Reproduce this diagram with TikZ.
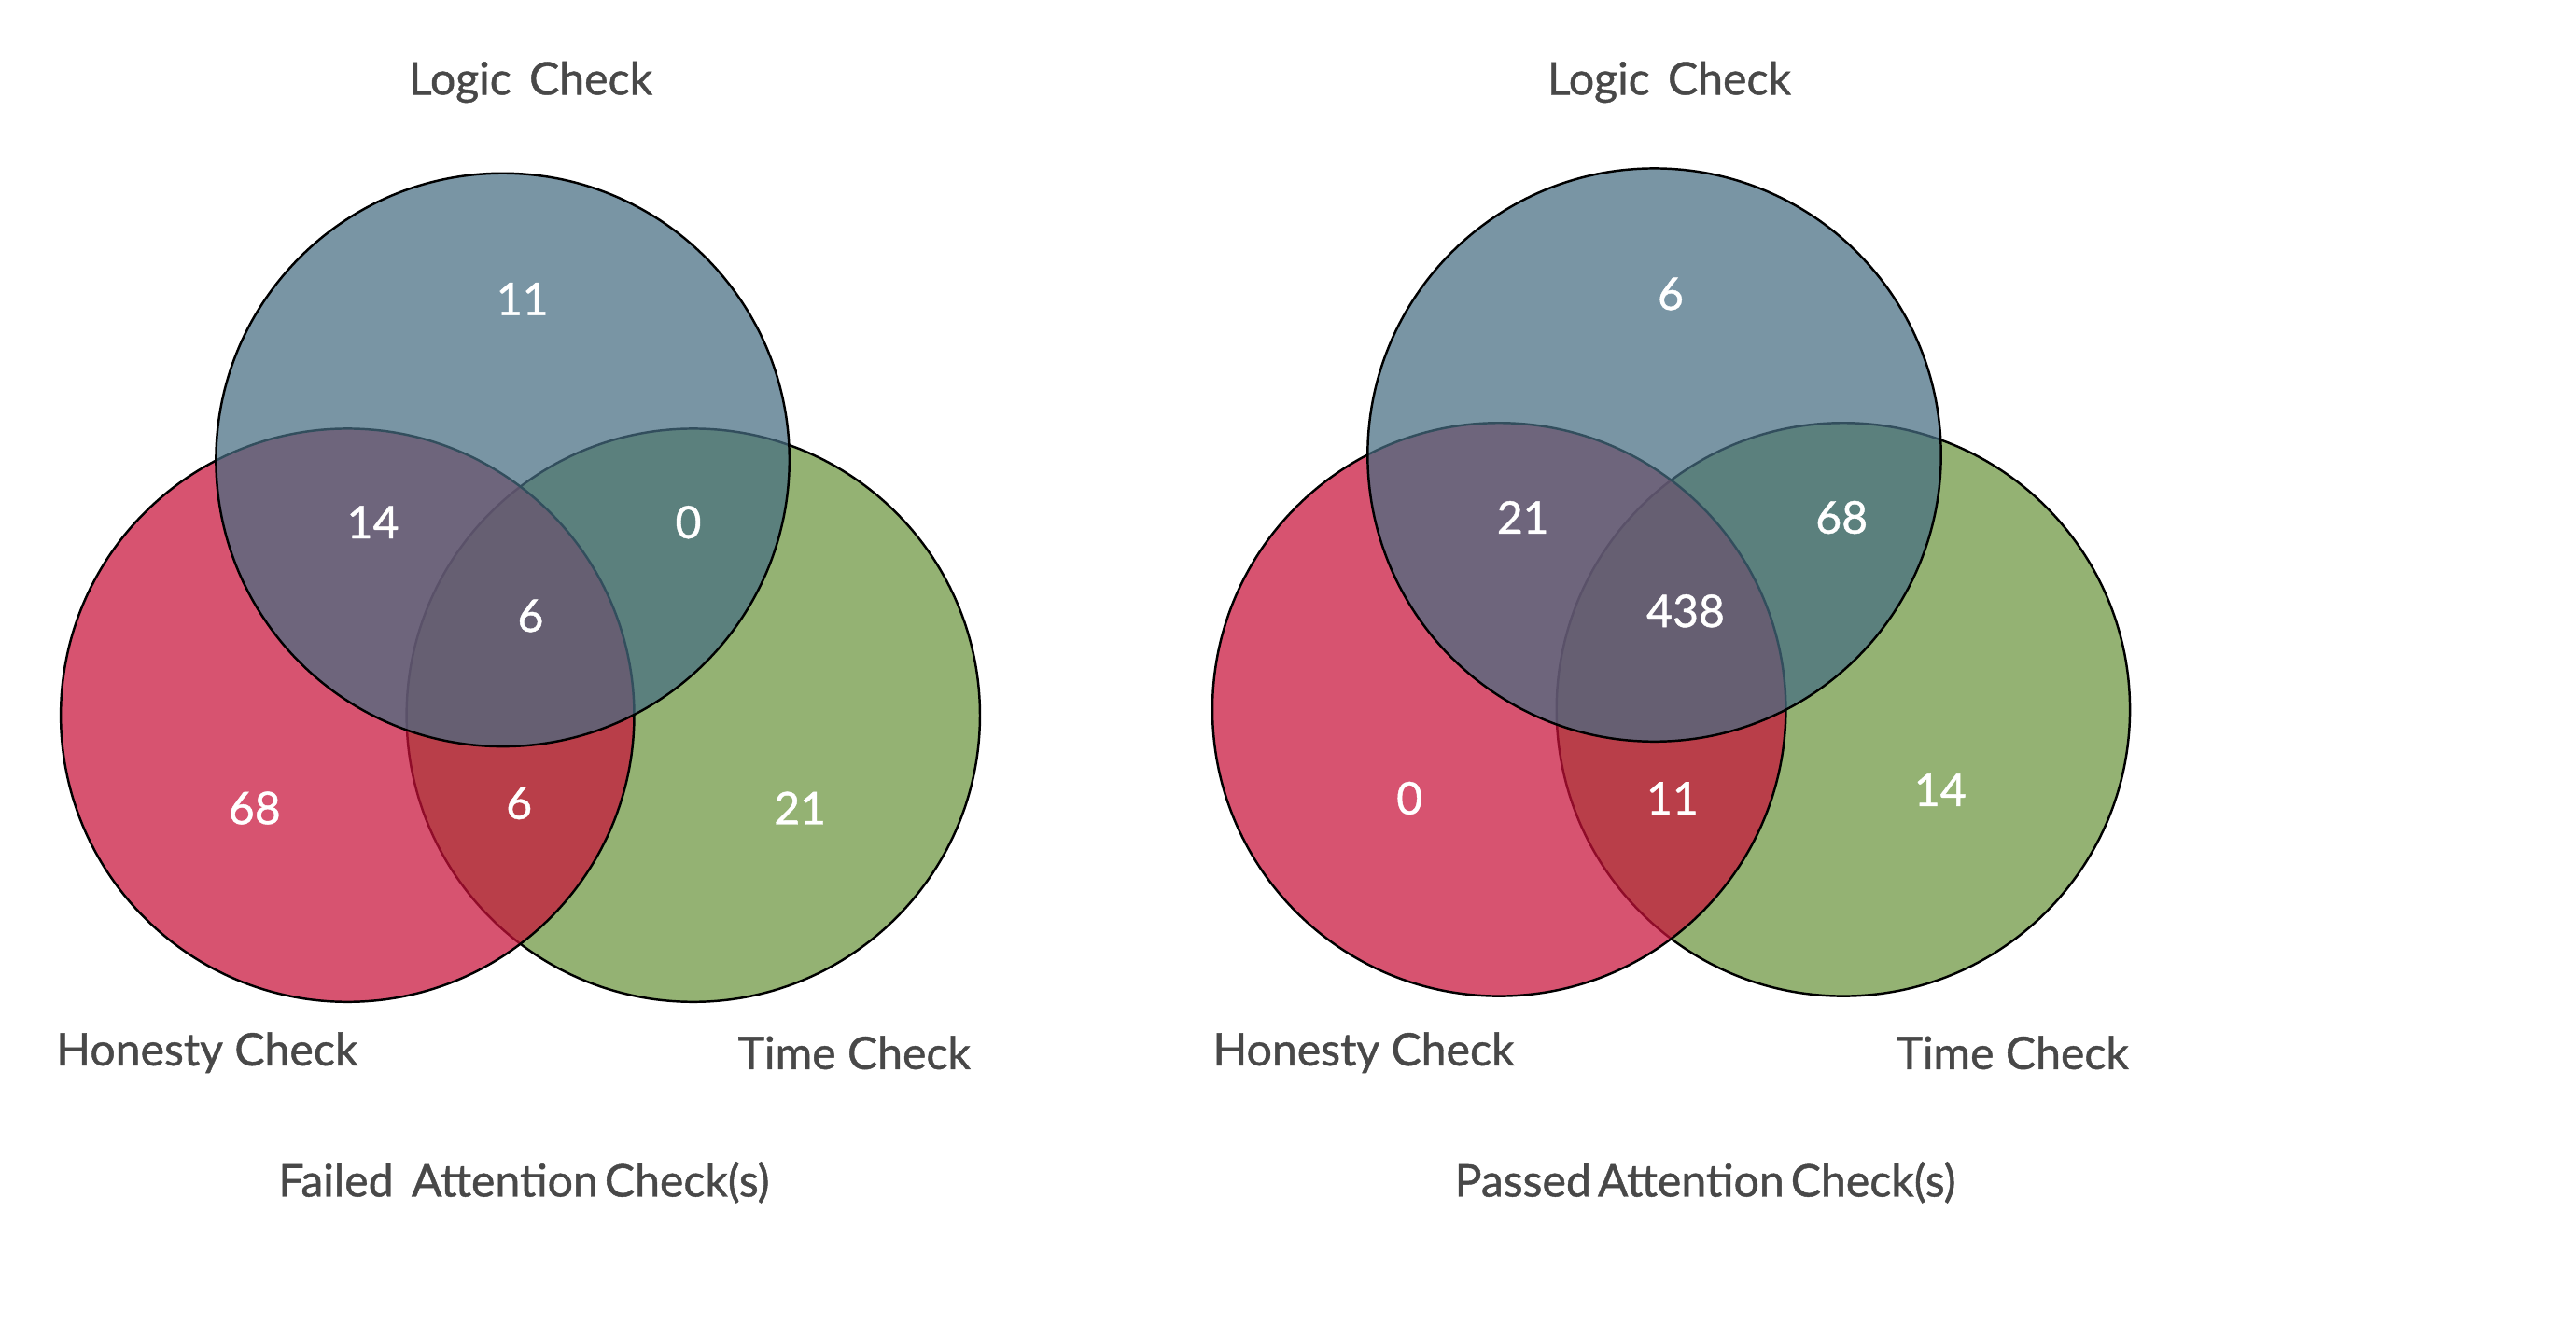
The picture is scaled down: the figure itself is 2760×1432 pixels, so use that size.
\documentclass[tikz,border=0pt]{standalone}
\usepackage{fontspec}
\setmainfont{Lato}
\newfontfamily\latomed{Lato}[FakeBold=0.9]
\definecolor{txt}{HTML}{484848}
\definecolor{grn}{HTML}{94B273}
\definecolor{crim}{HTML}{C8123A}
\definecolor{slate}{HTML}{466D82}
\begin{document}
\begin{tikzpicture}[x=0.01cm,y=-0.01cm,
  venn/.style={circle, minimum size=6.14cm, inner sep=0pt, draw=black, line width=0.7pt},
  timec/.style={venn, fill=grn},
  honc/.style={venn, fill=crim, fill opacity=0.72},
  logc/.style={venn, fill=slate, fill opacity=0.72},
  lbl/.style={text=txt, font=\latomed\fontsize{13.7pt}{16pt}\selectfont, inner sep=0pt},
  num/.style={text=white, font=\latomed\fontsize{13.7pt}{16pt}\selectfont, inner sep=0pt}]
\fill[white] (0,0) rectangle (2760,1432);
\useasboundingbox (0,0) rectangle (2760,1432);
% left diagram
\node[timec] (lT) at (742.8,766.6) {};
\node[honc] (lH) at (372.3,766.6) {};
\node[logc] (lL) at (538.6,492.9) {};
\node[lbl] (lLt) at (568.5,88) {Logic\ \hspace{2pt}Check};
\node[lbl] (lHt) at (221.8,1128.3) {Honesty Check};
\node[lbl] (lTt) at (915.3,1128.3) {Time Check};
\node[lbl] (lTitle) at (561.5,1267.3) {Failed\ \hspace{2pt}Attention\hspace{-1.5pt} Check(s)};
\node[num] (ln1) at (559.7,320.4) {11};
\node[num] (ln2) at (399.6,559.7) {14};
\node[num] (ln3) at (737.5,559.7) {0};
\node[num] (ln4) at (568.5,660) {6};
\node[num] (ln5) at (272.8,866) {68};
\node[num] (ln6) at (556.2,860.7) {6};
\node[num] (ln7) at (857.2,866) {21};
% right diagram
\node[timec] (rT) at (1974.9,760.4) {};
\node[honc] (rH) at (1606.2,760.4) {};
\node[logc] (rL) at (1772.5,487.6) {};
\node[lbl] (rLt) at (1788.4,88) {Logic\ \hspace{2pt}Check};
\node[lbl] (rHt) at (1461,1128.3) {Honesty Check};
\node[lbl] (rTt) at (2156.2,1128.3) {Time Check};
\node[lbl] (rTitle) at (1827,1267.3) {Passed\hspace{-1.5pt} Attention\hspace{-1.5pt} Check(s)};
\node[num] (rn1) at (1790,315) {6};
\node[num] (rn2) at (1631.7,554.5) {21};
\node[num] (rn3) at (1973.2,554.5) {68};
\node[num] (rn4) at (1806,654.8) {438};
\node[num] (rn5) at (1510.2,855.5) {0};
\node[num] (rn6) at (1791.9,855.5) {11};
\node[num] (rn7) at (2078.8,846.6) {14};
\end{tikzpicture}
\end{document}
